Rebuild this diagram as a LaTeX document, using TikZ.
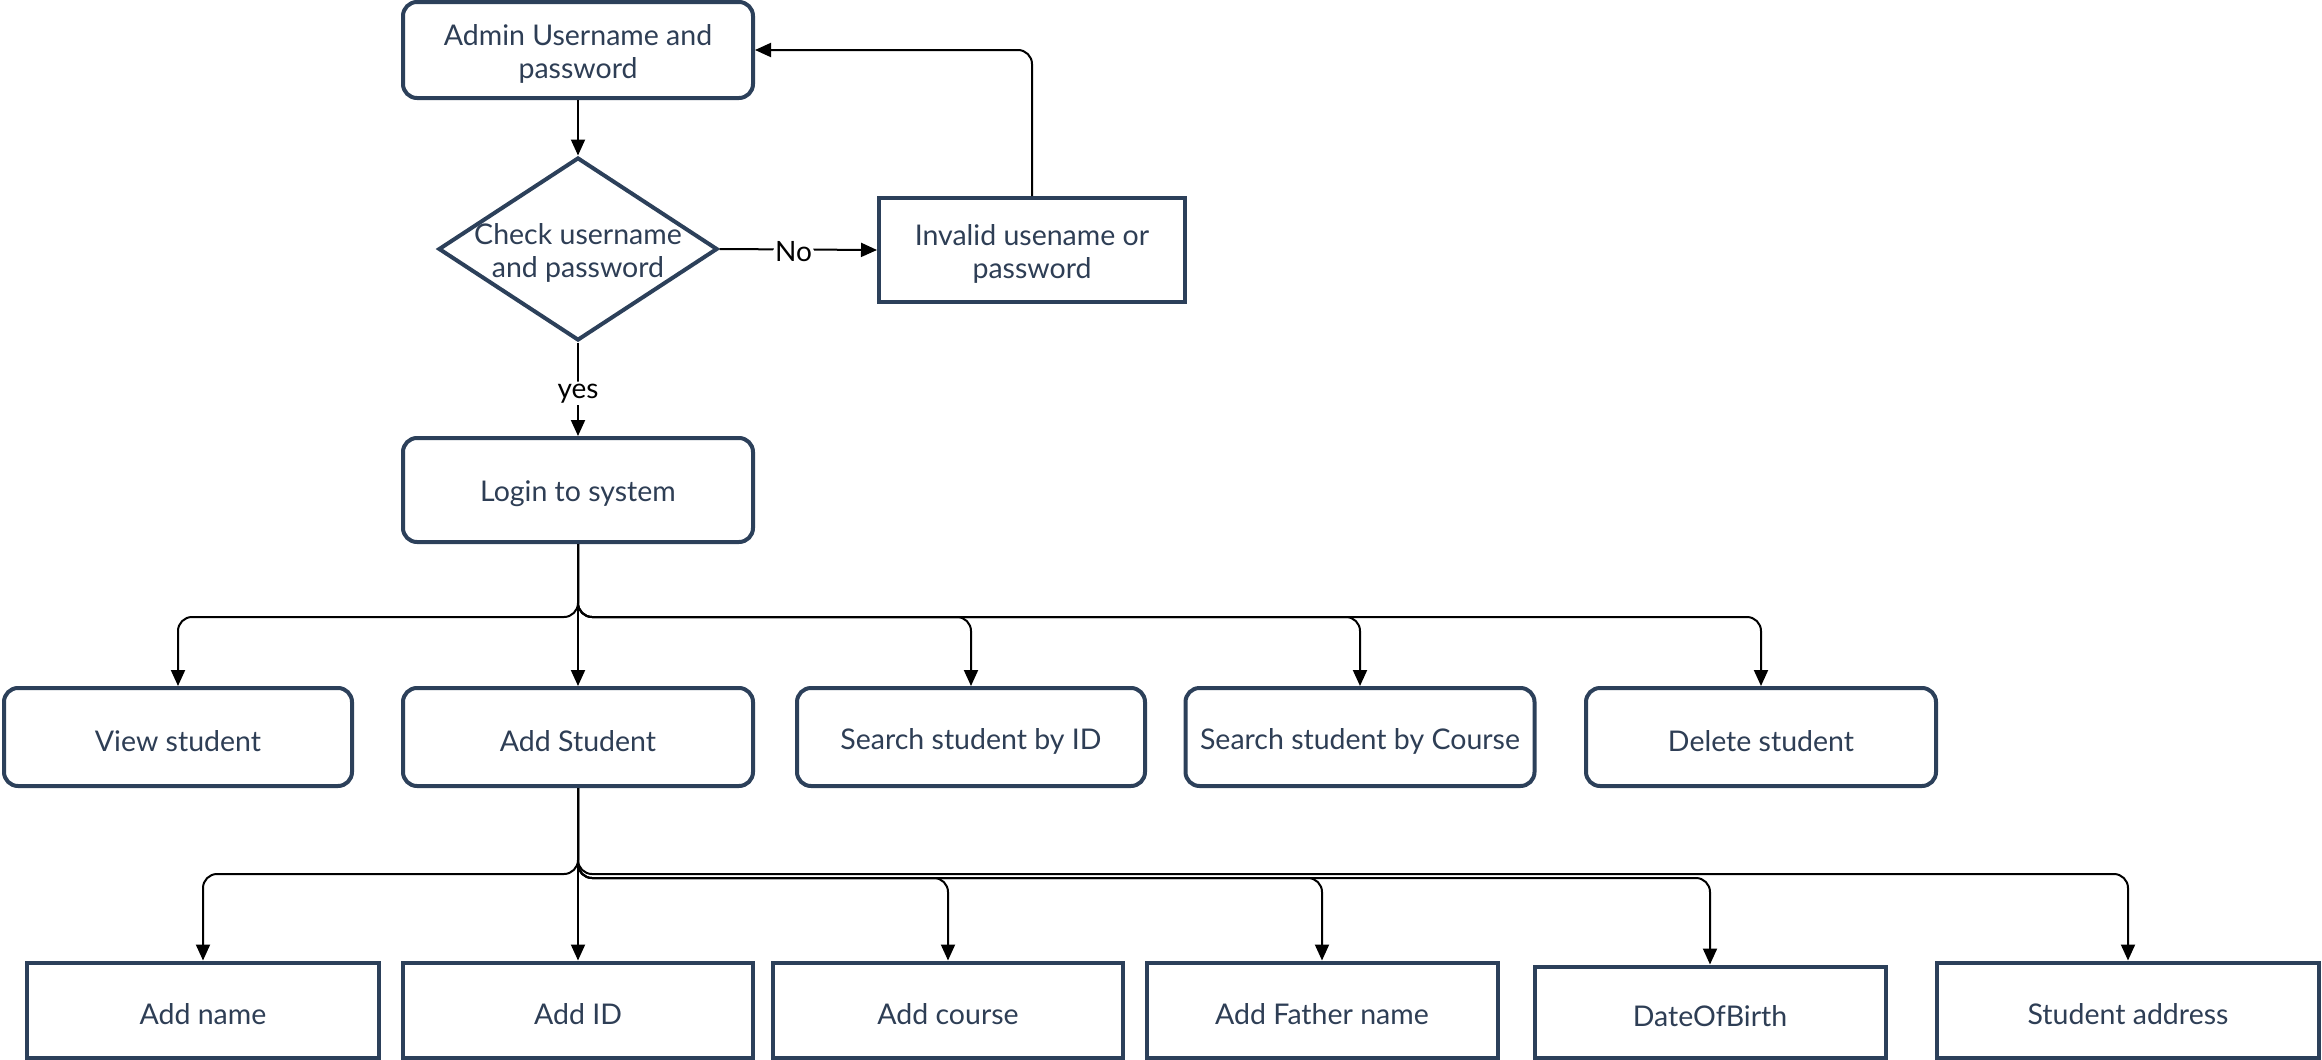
\documentclass[tikz,border=0pt]{standalone}
\usepackage{fontspec}
\setmainfont{Lato}
\usetikzlibrary{shapes.geometric,arrows.meta}
\definecolor{bord}{RGB}{44,64,90}
\definecolor{txtc}{RGB}{46,62,85}
\tikzset{
  tx/.style={text=txtc, align=center, inner sep=0pt, font=\fontsize{28.5}{33}\selectfont, yshift=-4pt},
  box/.style={draw=bord, line width=4pt, fill=white, inner sep=0pt},
  rbox/.style={box, rounded corners=14pt},
  conn/.style={draw=black, line width=2pt, -{Triangle[length=16pt,width=14pt]}, rounded corners=14pt},
  lbl/.style={fill=white, inner sep=2pt, text=black, font=\fontsize{28}{33}\selectfont}
}
\begin{document}
\begin{tikzpicture}[x=1pt,y=-1pt]
\useasboundingbox (0,0) rectangle (2322,1060);
% top part
\node[rbox, minimum width=350pt, minimum height=96pt, label={[tx]center:Admin Username and\\password}] (admin) at (578,50) {};
\node[diamond, draw=bord, line width=4pt, fill=white, minimum width=279pt, minimum height=183pt, inner sep=0pt,
  label={[tx]center:Check username\\and password}] (check) at (578,249) {};
\node[box, minimum width=306pt, minimum height=104pt, label={[tx]center:Invalid usename or\\password}] (invalid) at (1032,250) {};
\node[rbox, minimum width=350pt, minimum height=104pt, label={[tx]center:Login to system}] (login) at (578,490) {};
% row 2
\node[rbox, minimum width=348pt, minimum height=98pt, label={[tx]center:View student}] (view) at (178,737) {};
\node[rbox, minimum width=350pt, minimum height=98pt, label={[tx]center:Add Student}] (addst) at (578,737) {};
\node[rbox, minimum width=348pt, minimum height=98pt, label={[tx]center:Search student by ID}] (sid) at (971,737) {};
\node[rbox, minimum width=349pt, minimum height=98pt, label={[tx]center:Search student by Course}] (scourse) at (1360,737) {};
\node[rbox, minimum width=350pt, minimum height=98pt, label={[tx]center:Delete student}] (del) at (1761,737) {};
% row 3
\node[box, minimum width=352pt, minimum height=95pt, label={[tx]center:Add name}] (aname) at (203,1010) {};
\node[box, minimum width=350pt, minimum height=95pt, label={[tx]center:Add ID}] (aid) at (578,1010) {};
\node[box, minimum width=350pt, minimum height=95pt, label={[tx]center:Add course}] (acourse) at (948,1010) {};
\node[box, minimum width=351pt, minimum height=95pt, label={[tx]center:Add Father name}] (afather) at (1322,1010) {};
\node[box, minimum width=351pt, minimum height=91pt, label={[tx]center:DateOfBirth}] (dob) at (1710,1012) {};
\node[box, minimum width=382pt, minimum height=95pt, label={[tx]center:Student address}] (addr) at (2128,1010) {};
% connectors top
\draw[conn] (admin.south) -- (check.north);
\draw[conn] (check.east) -- node[lbl, pos=0.47, yshift=-2pt] {No} (invalid.west);
\draw[conn] (invalid.north) |- (admin.east);
\draw[conn] (check.south) -- node[lbl, pos=0.5, yshift=-4pt] {yes} (login.north);
% bus 1
\coordinate (busA) at (578,617);
\draw[conn] (login.south) -- (busA) -| (view.north);
\draw[conn] (login.south) -- (addst.north);
\draw[conn] (login.south) -- (busA) -| (sid.north);
\draw[conn] (login.south) -- (busA) -| (scourse.north);
\draw[conn] (login.south) -- (busA) -| (del.north);
% bus 2
\coordinate (busB) at (578,874);
\coordinate (busC) at (578,878);
\draw[conn] (addst.south) -- (busB) -| (aname.north);
\draw[conn] (addst.south) -- (aid.north);
\draw[conn] (addst.south) -- (busC) -| (acourse.north);
\draw[conn] (addst.south) -- (busC) -| (afather.north);
\draw[conn] (addst.south) -- (busC) -| (dob.north);
\draw[conn] (addst.south) -- (busB) -| (addr.north);
\end{tikzpicture}
\end{document}
